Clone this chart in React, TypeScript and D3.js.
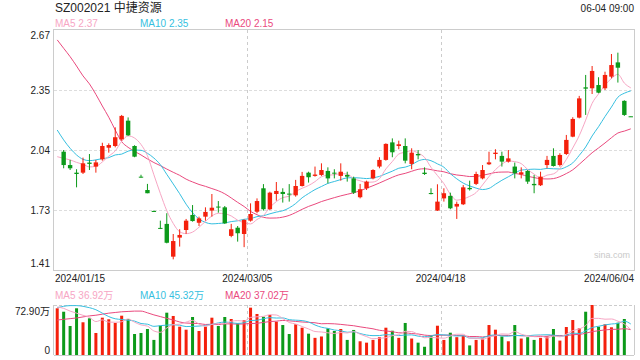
import React from "react";
import * as d3 from "d3";

const title = "SZ002021 中捷资源";
const timeLabel = "06-04 09:00";
const dateTicks = ["2024/01/15", "2024/03/05", "2024/04/18", "2024/06/04"];
const priceTickLabels = ["2.67", "2.35", "2.04", "1.73", "1.41"];
const priceDomain = [1.41, 2.67];
const volumeMax = 72.9;
const volumeMaxLabel = "72.90万";
const priceMaNames = ["MA5", "MA10", "MA20"];
const priceMaValues = ["2.37", "2.35", "2.15"];
const volumeMaValues = ["36.92万", "45.32万", "37.02万"];
const watermark = "sina.com";

// candles occupy slots 1..89 (slot 0 only has volume / MA values)
const opens = [
  2.031, 1.961, 1.921, 1.921, 1.974, 1.953, 1.991, 2.052, 2.061, 2.096,
  2.194, 2.061, 1.900, 1.830, 1.720, 1.631, 1.652, 1.480, 1.580, 1.620,
  1.699, 1.658, 1.690, 1.722, 1.743, 1.739, 1.589, 1.632, 1.599, 1.669,
  1.716, 1.839, 1.729, 1.809, 1.820, 1.811, 1.802, 1.851, 1.921, 1.904,
  1.909, 1.930, 1.921, 1.904, 1.909, 1.891, 1.792, 1.839, 1.891, 1.953,
  1.988, 2.080, 2.061, 2.061, 1.967, 2.019, 1.921, 1.814, 1.722, 1.786,
  1.799, 1.743, 1.755, 1.841, 1.862, 1.891, 1.965, 2.019, 2.009, 1.979,
  1.953, 1.912, 1.930, 1.862, 1.855, 1.961, 2.009, 1.961, 2.019, 2.110,
  2.210, 2.369, 2.364, 2.381, 2.364, 2.425, 2.500, 2.298, 2.217,
];
const highs = [
  2.040, 1.988, 1.939, 2.000, 2.019, 1.988, 2.078, 2.075, 2.159, 2.224,
  2.211, 2.065, 1.910, 1.862, 1.722, 1.669, 1.708, 1.599, 1.624, 1.678,
  1.751, 1.690, 1.739, 1.809, 1.772, 1.746, 1.652, 1.641, 1.676, 1.760,
  1.786, 1.861, 1.821, 1.872, 1.839, 1.861, 1.883, 1.925, 1.926, 1.953,
  1.970, 1.949, 1.939, 1.970, 1.926, 1.900, 1.862, 1.879, 1.939, 2.002,
  2.075, 2.101, 2.089, 2.101, 2.049, 2.040, 1.949, 1.839, 1.860, 1.839,
  1.816, 1.769, 1.856, 1.879, 1.926, 1.961, 2.031, 2.044, 2.031, 2.040,
  1.974, 1.949, 1.935, 1.909, 1.926, 2.009, 2.049, 2.023, 2.119, 2.212,
  2.324, 2.434, 2.481, 2.422, 2.451, 2.544, 2.551, 2.301, 2.217,
];
const lows = [
  1.944, 1.935, 1.844, 1.914, 1.935, 1.921, 1.984, 2.026, 2.054, 2.089,
  2.114, 2.002, 1.895, 1.813, 1.716, 1.625, 1.550, 1.466, 1.533, 1.600,
  1.664, 1.641, 1.669, 1.690, 1.711, 1.652, 1.582, 1.559, 1.530, 1.664,
  1.708, 1.722, 1.725, 1.774, 1.764, 1.769, 1.795, 1.848, 1.869, 1.900,
  1.904, 1.865, 1.891, 1.879, 1.874, 1.809, 1.786, 1.830, 1.886, 1.944,
  1.984, 2.002, 2.044, 1.970, 1.939, 1.991, 1.909, 1.807, 1.720, 1.769,
  1.729, 1.678, 1.751, 1.827, 1.856, 1.886, 1.961, 1.991, 1.953, 1.974,
  1.891, 1.891, 1.862, 1.813, 1.851, 1.944, 1.953, 1.953, 2.014, 2.107,
  2.206, 2.224, 2.334, 2.338, 2.355, 2.416, 2.394, 2.219, 2.215,
];
const closes = [
  1.961, 1.944, 1.914, 1.970, 1.967, 1.975, 2.061, 2.066, 2.107, 2.219,
  2.117, 2.005, 1.897, 1.813, 1.718, 1.627, 1.553, 1.562, 1.594, 1.669,
  1.667, 1.681, 1.715, 1.737, 1.738, 1.655, 1.624, 1.603, 1.673, 1.704,
  1.772, 1.729, 1.816, 1.825, 1.809, 1.807, 1.851, 1.904, 1.897, 1.911,
  1.935, 1.891, 1.916, 1.926, 1.900, 1.816, 1.834, 1.874, 1.935, 1.988,
  2.072, 2.028, 2.070, 1.984, 2.026, 2.012, 1.914, 1.809, 1.769, 1.813,
  1.734, 1.757, 1.844, 1.834, 1.914, 1.935, 1.975, 2.026, 1.979, 1.996,
  1.918, 1.923, 1.874, 1.855, 1.900, 1.988, 1.956, 2.014, 2.093, 2.203,
  2.311, 2.362, 2.455, 2.341, 2.434, 2.486, 2.472, 2.224, 2.215,
];
// volumes in 万, slots 0..89
const volumes = [
  68.1, 63.1, 42.3, 68.1, 47.7, 53.5, 32.1, 54.4, 52.1, 46.7,
  57.3, 52.5, 30.6, 32.1, 37.9, 22, 42.7, 61.7, 56.9, 41.3,
  36.9, 55.4, 35.0, 41.3, 54.4, 42.3, 55.4, 52.5, 46.2, 51.0,
  69.0, 59.8, 55.8, 58.3, 48.6, 43.7, 30.6, 44.8, 39.8, 31.1,
  25, 27, 38.9, 35.0, 37.9, 22, 36.5, 20, 18, 22,
  26, 39.8, 35.4, 25, 46.7, 24, 18, 12, 28, 42.7,
  22, 32.5, 26, 28, 14, 22, 24, 43.7, 36.9, 27,
  20, 43.7, 24, 26, 22, 25, 27, 37.9, 21, 40.8,
  51.0, 38.9, 63.1, 72.9, 41.3, 44.8, 40.4, 47.1, 52.5, 0,
];
const leadVolumeUp = true;
// moving-average values at the start of the window (need data before the first day)
const ma5Head = [2.005, 1.996, 1.988, 1.975, 1.965];
const ma10Head = [2.145, 2.093, 2.049, 2.014, 1.991, 1.984, 1.988, 1.995, 2.0, 2.014];
const ma20Head = [
  2.618, 2.574, 2.53, 2.481, 2.429, 2.387, 2.332, 2.271, 2.212, 2.145,
  2.084, 2.054, 2.033, 2.014, 1.993, 1.974, 1.958, 1.94, 1.923, 1.907,
];
const volMa5Head = [70, 68, 64, 61];
const volMa10Head = [69, 71, 72, 72, 71, 69, 66, 61, 56];
const volMa20Head = [51, 52, 53, 54, 55.5, 57, 58, 59.5, 61, 62, 63, 63.5, 64, 64, 61.5, 58.5, 56, 53.5, 51];

const W = 640, H = 360;
const L = 54, R = 634;
const PT = 30, PB = 270;
const VT = 305, VB = 355;
const UP = "#f4200c";
const DOWN = "#0c9a1a";
const C5 = "#f7a6c4";
const C10 = "#36bfe0";
const C20 = "#ea4a7e";
const FONT = "'Liberation Sans', Arial, 'Noto Sans CJK SC', sans-serif";

function movingAvg(vals: number[], n: number, head: number[]) {
  return vals.map((_, i) => (i < head.length ? head[i] : (d3.mean(vals.slice(i - n + 1, i + 1)) as number)));
}

export default function App() {
  const nSlots = volumes.length;
  const x = d3.scaleBand<number>().domain(d3.range(nSlots)).range([L, R]);
  const bw = x.bandwidth();
  const cx = (i: number) => (x(i) as number) + bw / 2;
  const y = d3.scaleLinear().domain(priceDomain).range([PB, PT]);
  const yv = d3.scaleLinear().domain([0, volumeMax]).range([VB, VT]);

  const slotCloses = [NaN, ...closes];
  const ma5 = movingAvg(slotCloses, 5, ma5Head);
  const ma10 = movingAvg(slotCloses, 10, ma10Head);
  const ma20 = movingAvg(slotCloses, 20, ma20Head);
  const vma5 = movingAvg(volumes, 5, volMa5Head);
  const vma10 = movingAvg(volumes, 10, volMa10Head);
  const vma20 = movingAvg(volumes, 20, volMa20Head);

  const pLine = d3.line<number>().x((_, i) => cx(i)).y((d) => y(d)).curve(d3.curveMonotoneX);
  const vLine = d3.line<number>().x((_, i) => cx(i)).y((d) => yv(d)).curve(d3.curveMonotoneX);

  const isUp = (k: number) => {
    if (closes[k] > opens[k]) return true;
    if (closes[k] < opens[k]) return false;
    return k === 0 ? true : closes[k] >= closes[k - 1];
  };
  const slotUp = (s: number) => (s === 0 ? leadVolumeUp : isUp(s - 1));

  const tickVals = d3.range(priceTickLabels.length).map(
    (i) => priceDomain[1] - (i * (priceDomain[1] - priceDomain[0])) / (priceTickLabels.length - 1)
  );
  const vGrid = [L + (R - L) / 3, L + (2 * (R - L)) / 3];
  const dateX = [L + 1, vGrid[0], vGrid[1], R];
  const dateAnchor = ["start", "middle", "middle", "end"];
  const legendX = [55, 140, 225];
  const legendColors = [C5, C10, C20];
  const bodyW = 4.4;
  const volW = 3;

  return (
    <svg width={W} height={H} style={{ position: "absolute", left: 0, top: 0, background: "#fff" }} fontFamily={FONT}>
      <text x={55} y={12} fontSize={12} fill="#222">{title}</text>
      <text x={R} y={12} fontSize={10} fill="#222" textAnchor="end">{timeLabel}</text>
      {priceMaNames.map((n, i) => (
        <text key={"pl" + i} x={legendX[i]} y={27} fontSize={10} fill={legendColors[i]}>{`${n} ${priceMaValues[i]}`}</text>
      ))}
      {/* price panel grid */}
      {tickVals.slice(1, -1).map((v, i) => (
        <line key={"hg" + i} x1={L} x2={R} y1={Math.round(y(v)) + 0.5} y2={Math.round(y(v)) + 0.5} stroke="#ddd" strokeDasharray="3,2" />
      ))}
      {vGrid.map((gx, i) => (
        <g key={"vg" + i}>
          <line x1={Math.round(gx) + 0.5} x2={Math.round(gx) + 0.5} y1={PT} y2={PB} stroke="#ccc" strokeDasharray="3,3" />
          <line x1={Math.round(gx) + 0.5} x2={Math.round(gx) + 0.5} y1={VT} y2={VB} stroke="#ccc" strokeDasharray="3,3" />
        </g>
      ))}
      <rect x={L - 0.5} y={PT - 0.5} width={R - L + 1} height={PB - PT + 1} fill="none" stroke="#ccc" />
      {tickVals.map((v, i) => {
        const last = tickVals.length - 1;
        const ty = i === 0 ? y(v) + 8.5 : i === last ? y(v) - 3 : y(v) + 3.5;
        return (
          <text key={"pt" + i} x={50} y={ty} fontSize={10} fill="#222" textAnchor="end">{priceTickLabels[i]}</text>
        );
      })}
      <text x={630} y={258} fontSize={9} fill="#c9c9c9" textAnchor="end">{watermark}</text>
      {/* MA lines */}
      <path d={pLine(ma20) || ""} fill="none" stroke={C20} strokeWidth={1} />
      <path d={pLine(ma10) || ""} fill="none" stroke={C10} strokeWidth={1} />
      <path d={pLine(ma5) || ""} fill="none" stroke={C5} strokeWidth={1} />
      {/* candles */}
      {opens.map((o, k) => {
        const s = k + 1;
        const c = closes[k];
        const col = isUp(k) ? UP : DOWN;
        const top = y(Math.max(o, c));
        const bot = y(Math.min(o, c));
        const xc = cx(s);
        return (
          <g key={"c" + k}>
            <line x1={xc} x2={xc} y1={y(highs[k])} y2={y(lows[k])} stroke={col} strokeWidth={1} />
            <rect x={xc - bodyW / 2} y={top} width={bodyW} height={Math.max(1, bot - top)} fill={col} />
          </g>
        );
      })}
      {/* date labels */}
      {dateTicks.map((d, i) => (
        <text key={"dt" + i} x={dateX[i]} y={282} fontSize={10} fill="#222" textAnchor={dateAnchor[i] as any}>{d}</text>
      ))}
      {priceMaNames.map((n, i) => (
        <text key={"vl" + i} x={legendX[i]} y={299} fontSize={10} fill={legendColors[i]}>{`${n} ${volumeMaValues[i]}`}</text>
      ))}
      {/* volume panel */}
      <line x1={L} x2={R} y1={VT + 0.5} y2={VT + 0.5} stroke="#ccc" strokeDasharray="3,2" />
      <line x1={L - 0.5} x2={L - 0.5} y1={VT} y2={VB} stroke="#ccc" />
      <line x1={R + 0.5} x2={R + 0.5} y1={VT} y2={VB} stroke="#ccc" />
      <line x1={L} x2={R} y1={VB + 0.5} y2={VB + 0.5} stroke="#ccc" />
      <text x={50} y={315} fontSize={10} fill="#222" textAnchor="end">{volumeMaxLabel}</text>
      <text x={50} y={354} fontSize={10} fill="#222" textAnchor="end">0</text>
      {volumes.map((v, s) =>
        v > 0 ? (
          <rect key={"v" + s} x={cx(s) - volW / 2} y={yv(v)} width={volW} height={VB - yv(v)} fill={slotUp(s) ? UP : DOWN} />
        ) : null
      )}
      <path d={vLine(vma20) || ""} fill="none" stroke={C20} strokeWidth={1} />
      <path d={vLine(vma10) || ""} fill="none" stroke={C10} strokeWidth={1} />
      <path d={vLine(vma5) || ""} fill="none" stroke={C5} strokeWidth={1} />
    </svg>
  );
}
